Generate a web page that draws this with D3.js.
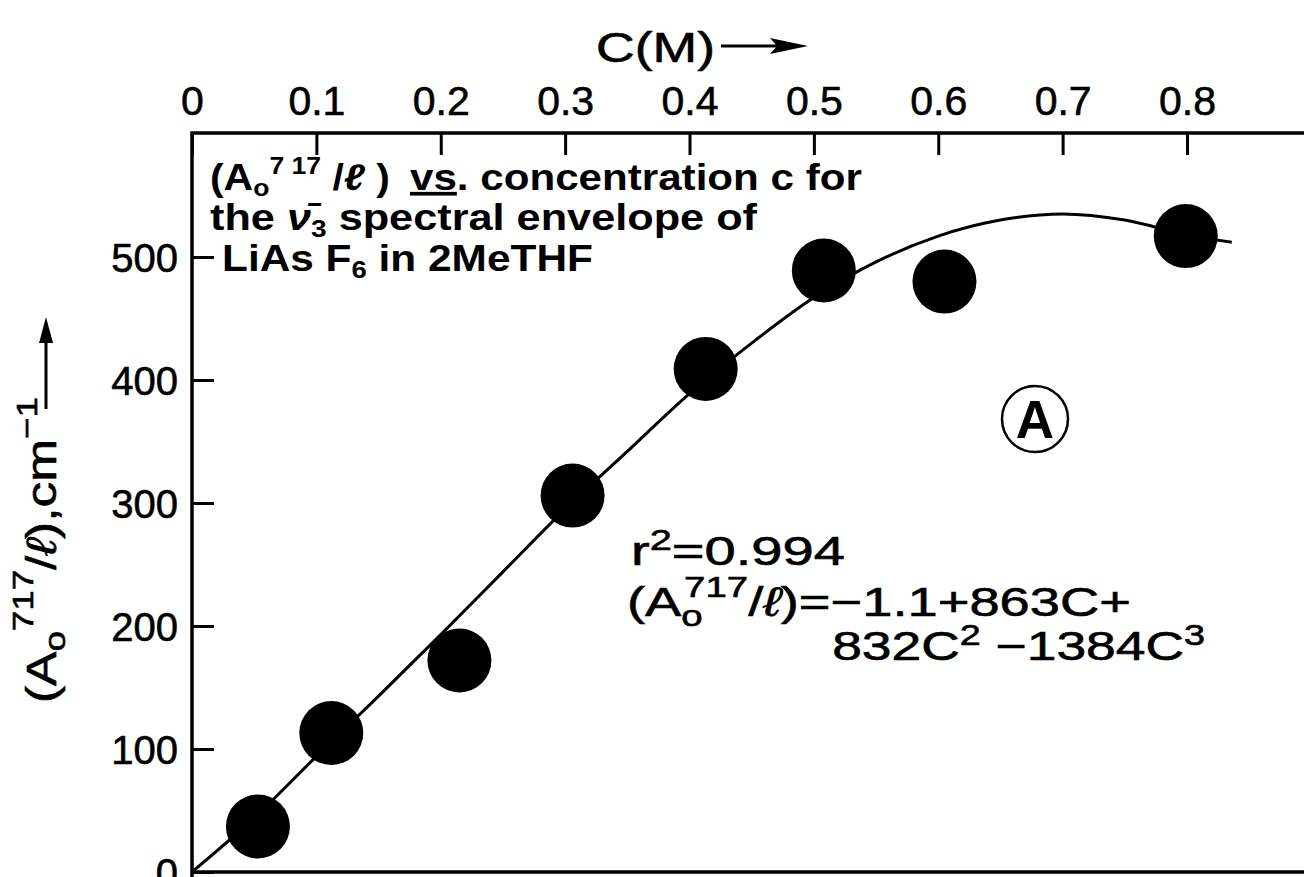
<!DOCTYPE html>
<html>
<head>
<meta charset="utf-8">
<script src="https://cdn.jsdelivr.net/npm/d3@7"></script>
<style>
  body { margin: 0; background: #fff; }
  text { font-family: "Liberation Sans", Arial, Helvetica, sans-serif; fill: #000; }
</style>
</head>
<body>
<div id="chart"></div>
<script>
const w = 1304;
const h = 877;

// measured points (concentration in M, A/l in cm-1)
const concentration = [0.053, 0.112, 0.215, 0.306, 0.413, 0.508, 0.605, 0.799];
const absorbance = [37, 113, 172, 306, 409, 489, 480, 517];

// fitted curve
const fitC = [0, 0.05, 0.1, 0.15, 0.2, 0.25, 0.3, 0.35, 0.4, 0.45, 0.5, 0.55, 0.6, 0.65, 0.7, 0.75, 0.8, 0.836];
const fitA = [0, 44, 94, 143, 193, 244, 295, 342, 389, 430, 467, 496, 517, 530, 535, 530, 518, 512];

const xTicks = [0, 0.1, 0.2, 0.3, 0.4, 0.5, 0.6, 0.7, 0.8];
const xTickLabels = ["0", "0.1", "0.2", "0.3", "0.4", "0.5", "0.6", "0.7", "0.8"];
const yTicks = [0, 100, 200, 300, 400, 500];
const yTickLabels = ["0", "100", "200", "300", "400", "500"];

const plotLeft = 192, plotTop = 133, plotBottom = 872;

const svg = d3.select("#chart")
    .append("svg")
    .attr("width", w)
    .attr("height", h);

const x = d3.scaleLinear()
    .domain([0, 0.9])
    .range([plotLeft, plotLeft + 0.9 * 1243.75]);

const y = d3.scaleLinear()
    .domain([0, 600])
    .range([plotBottom, plotTop + 1]);

// the lettering of the original is wider than Liberation Sans,
// so stretch a text horizontally to the width it has there
function fitWidth(sel, width, anchor) {
    const bb = sel.node().getBBox();
    const k = width / bb.width;
    const ox = anchor === "end" ? bb.x + bb.width : bb.x;
    sel.attr("transform", `translate(${ox},0) scale(${k},1) translate(${-ox},0)`);
}

// top axis, ticks pointing in
const xAxis = d3.axisTop(x)
    .tickValues(xTicks)
    .tickFormat((d, i) => xTickLabels[i])
    .tickSizeInner(-22)
    .tickSizeOuter(0)
    .tickPadding(18);

svg.append("g")
    .attr("transform", `translate(0,${plotTop})`)
    .call(xAxis)
    .call(g => g.select(".domain").remove())
    .call(g => g.selectAll("line").attr("stroke", "#000").attr("stroke-width", 3))
    .call(g => g.selectAll("text")
        .attr("font-size", 41)
        .attr("fill", "#000")
        .attr("stroke", "#000")
        .attr("stroke-width", 0.6)
        .style("font-family", '"Liberation Sans", Arial, sans-serif'));

const yAxis = d3.axisLeft(y)
    .tickValues(yTicks)
    .tickFormat((d, i) => yTickLabels[i])
    .tickSizeInner(-22)
    .tickSizeOuter(0)
    .tickPadding(14);

svg.append("g")
    .attr("transform", `translate(${plotLeft},0)`)
    .call(yAxis)
    .call(g => g.select(".domain").remove())
    .call(g => g.selectAll("line").attr("stroke", "#000").attr("stroke-width", 3))
    .call(g => g.selectAll("text")
        .attr("font-size", 40)
        .attr("dy", "0.36em")
        .attr("fill", "#000")
        .attr("stroke", "#000")
        .attr("stroke-width", 0.6)
        .style("font-family", '"Liberation Sans", Arial, sans-serif'));

// frame
svg.append("path")
    .attr("d", `M${w},${plotTop}H${plotLeft}V${h}M${plotLeft},${plotBottom}H${w}`)
    .attr("fill", "none")
    .attr("stroke", "#000")
    .attr("stroke-width", 3.5);

// fitted curve
const line = d3.line()
    .x((d, i) => x(fitC[i]))
    .y(d => y(d))
    .curve(d3.curveMonotoneX);

svg.append("path")
    .datum(fitA)
    .attr("d", line)
    .attr("fill", "none")
    .attr("stroke", "#000")
    .attr("stroke-width", 3);

// data points
svg.selectAll("circle.dot")
    .data(absorbance)
    .enter()
    .append("circle")
    .attr("class", "dot")
    .attr("cx", (d, i) => x(concentration[i]))
    .attr("cy", d => y(d))
    .attr("r", 32)
    .attr("fill", "#000");

// top title with arrow
const title = svg.append("text")
    .attr("x", 596)
    .attr("y", 62)
    .attr("font-size", 42)
    .attr("stroke", "#000")
    .attr("stroke-width", 0.6)
    .text("C(M)");
fitWidth(title, 119);

svg.append("path")
    .attr("d", "M721,46H785")
    .attr("stroke", "#000")
    .attr("stroke-width", 3);
svg.append("path")
    .attr("d", "M770,38L808,46L770,54L777,46Z")
    .attr("fill", "#000");

// y axis title (rotated)
const yt = svg.append("g")
    .attr("transform", "translate(56,703) rotate(-90)");

const ytText = yt.append("text")
    .attr("x", 0)
    .attr("y", 0)
    .attr("font-size", 42)
    .attr("stroke", "#000")
    .attr("stroke-width", 0.6);
ytText.append("tspan").text("(A");
ytText.append("tspan").attr("font-size", 30).attr("dy", 9).text("o");
ytText.append("tspan").attr("font-size", 30).attr("dy", -32).text("717");
ytText.append("tspan").attr("dy", 23).text("/");
ytText.append("tspan").attr("font-style", "italic").text("ℓ");
ytText.append("tspan").text("),cm");
ytText.append("tspan").attr("font-size", 30).attr("dy", -19).text("−1");
fitWidth(ytText, 306);

yt.append("path")
    .attr("d", "M294,-10H368")
    .attr("stroke", "#000")
    .attr("stroke-width", 3);
yt.append("path")
    .attr("d", "M360,-17L386,-10L360,-3Z")
    .attr("fill", "#000");

// annotation, top-left
const note = svg.append("g")
    .attr("font-size", 37)
    .attr("font-weight", "bold");

const n1a = note.append("text").attr("x", 210).attr("y", 190);
n1a.append("tspan").text("(A");
n1a.append("tspan").attr("font-size", 24).attr("dy", 6).text("o");
n1a.append("tspan").attr("font-size", 24).attr("dy", -22).text("7 17");
n1a.append("tspan").attr("dy", 16).text(" /");
n1a.append("tspan").attr("font-style", "italic").text("ℓ");
n1a.append("tspan").text(" )");
fitWidth(n1a, 180);

const n1b = note.append("text").attr("x", 410).attr("y", 190);
n1b.append("tspan").style("text-decoration", "underline").text("vs");
n1b.append("tspan").text(". concentration c for");
fitWidth(n1b, 452);

const n2 = note.append("text").attr("x", 210).attr("y", 230);
n2.append("tspan").text("the ");
n2.append("tspan").attr("font-style", "italic").text("ν\u0304");
n2.append("tspan").attr("font-size", 24).attr("dy", 7).text("3");
n2.append("tspan").attr("dy", -7).text(" spectral envelope of");
fitWidth(n2, 548);

const n3 = note.append("text").attr("x", 222).attr("y", 271);
n3.append("tspan").text("LiAs F");
n3.append("tspan").attr("font-size", 24).attr("dy", 7).text("6");
n3.append("tspan").attr("dy", -7).text(" in 2MeTHF");
fitWidth(n3, 371);

// circled A
svg.append("circle")
    .attr("cx", 1035)
    .attr("cy", 419)
    .attr("r", 33)
    .attr("fill", "none")
    .attr("stroke", "#000")
    .attr("stroke-width", 2.5);
svg.append("text")
    .attr("x", 1035)
    .attr("y", 438)
    .attr("text-anchor", "middle")
    .attr("font-size", 53)
    .attr("font-weight", "bold")
    .text("A");

// fit equation
const eq = svg.append("g")
    .attr("font-size", 41)
    .attr("stroke", "#000")
    .attr("stroke-width", 0.6);

const e1 = eq.append("text").attr("x", 631).attr("y", 565);
e1.append("tspan").text("r");
e1.append("tspan").attr("font-size", 29).attr("dy", -15).text("2");
e1.append("tspan").attr("dy", 15).text("=0.994");
fitWidth(e1, 214);

const e2 = eq.append("text").attr("x", 627).attr("y", 616);
e2.append("tspan").text("(A");
e2.append("tspan").attr("font-size", 29).attr("dy", 10).text("o");
e2.append("tspan").attr("font-size", 29).attr("dx", -14).attr("dy", -29).text("717");
e2.append("tspan").attr("dy", 19).text("/");
e2.append("tspan").attr("font-style", "italic").text("ℓ");
e2.append("tspan").text(")=−1.1+863C+");
fitWidth(e2, 504);

const e3 = eq.append("text").attr("x", 1205).attr("y", 660).attr("text-anchor", "end");
e3.append("tspan").text("832C");
e3.append("tspan").attr("font-size", 29).attr("dy", -15).text("2");
e3.append("tspan").attr("dy", 15).text(" −1384C");
e3.append("tspan").attr("font-size", 29).attr("dy", -15).text("3");
fitWidth(e3, 373, "end");
</script>
</body>
</html>
